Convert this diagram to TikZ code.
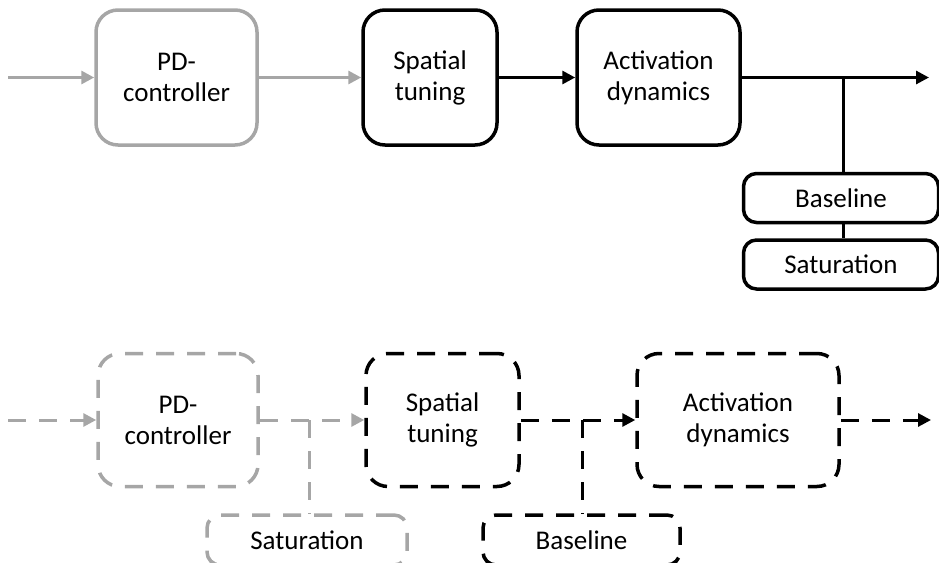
\documentclass[tikz,border=0pt]{standalone}
\usepackage{fontspec}
\setmainfont{Carlito}
\usetikzlibrary{arrows.meta}
\definecolor{ctrlgray}{RGB}{166,166,166}
\tikzset{
  blk/.style={draw, line width=3.5pt, rounded corners=22pt, align=center, inner sep=0pt,
    minimum height=135pt, font=\fontsize{27}{31}\selectfont},
  sml/.style={blk, rounded corners=13pt, minimum height=49pt},
  dsh/.style={dash pattern=on 18pt off 13pt},
  flow/.style={line width=3pt, -{Triangle[length=13pt,width=13pt]}},
  link/.style={line width=3pt},
}

\begin{document}
\begin{tikzpicture}[x=1pt,y=-1pt]
\useasboundingbox (0,0) rectangle (939,562);
\clip (0,0) rectangle (939,562);
%-------->top row nodes<--------------
\node[blk, draw=ctrlgray, minimum width=161pt] (pd1) at (176.5,77.5) {PD-\\controller};
\node[blk, minimum width=134pt] (sp1) at (430,77.5) {Spatial\\tuning};
\node[blk, minimum width=163pt] (act1) at (658.5,77.5) {Activation\\dynamics};
\node[sml, minimum width=195pt] (base1) at (841,198) {Baseline};
\node[sml, minimum width=195pt] (sat1) at (841,264.5) {Saturation};
\coordinate (in1) at (8,77.5);
\coordinate (out1) at (929,77.5);
\coordinate (j1) at (843,77.5);
%------------->top row arrows<------------------
\draw[flow, ctrlgray] (in1) -- (pd1.west);
\draw[flow, ctrlgray] (pd1.east) -- (sp1.west);
\draw[flow] (sp1.east) -- (act1.west);
\draw[flow] (act1.east) -- (out1);
\draw[link] (j1) -- (j1 |- base1.north);
\draw[link] (base1.south -| j1) -- (sat1.north -| j1);
%-------->bottom row nodes<--------------
\node[blk, dsh, draw=ctrlgray, minimum width=160pt, minimum height=133pt] (pd2) at (178,420) {PD-\\controller};
\node[blk, dsh, minimum width=153pt, minimum height=133pt] (sp2) at (442.5,420) {Spatial\\tuning};
\node[blk, dsh, minimum width=202pt, minimum height=133pt] (act2) at (738,420) {Activation\\dynamics};
\node[sml, dsh, draw=ctrlgray, minimum width=200pt, minimum height=50pt] (sat2) at (307,540) {Saturation};
\node[sml, dsh, minimum width=197pt, minimum height=50pt] (base2) at (581.5,540) {Baseline};
\coordinate (in2) at (8,420);
\coordinate (out2) at (931,420);
\coordinate (j2) at (309,420);
\coordinate (j3) at (582,420);
%------------->bottom row arrows<------------------
\draw[flow, dsh, ctrlgray] (in2) -- (pd2.west);
\draw[flow, dsh, ctrlgray] (pd2.east) -- (sp2.west);
\draw[flow, dsh] (sp2.east) -- (act2.west);
\draw[flow, dsh] (act2.east) -- (out2);
\draw[link, dsh, ctrlgray] (j2) -- (j2 |- sat2.north);
\draw[link, dsh] (j3) -- (j3 |- base2.north);
\end{tikzpicture}
\end{document}
